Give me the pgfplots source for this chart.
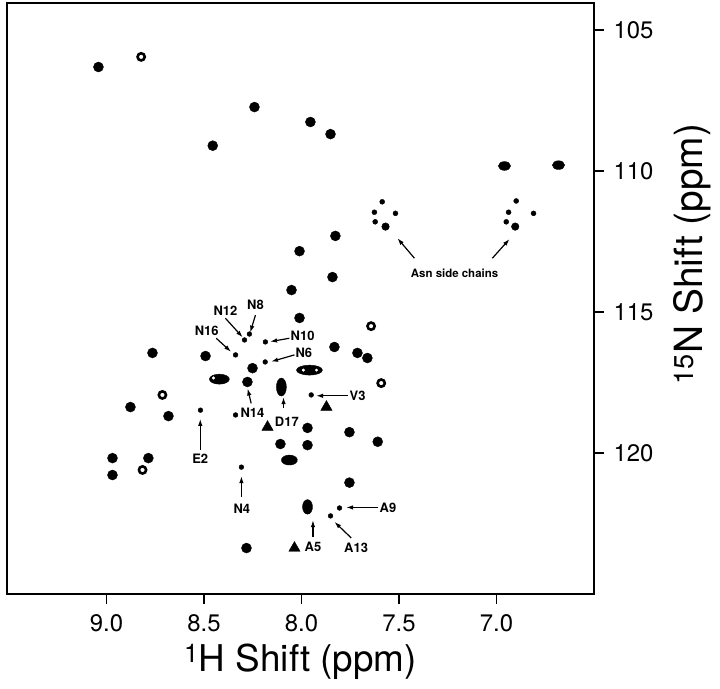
\documentclass[border=0pt]{standalone}
\usepackage{fontspec}
\setmainfont{TeX Gyre Heros}
\usepackage{pgfplots}
\pgfplotsset{compat=1.18}
\usetikzlibrary{arrows.meta}

\pgfplotsset{
  pk/.style={only marks, mark=*, mark size=#1, mark options={fill=black, draw=black, line width=0.4bp}, black},
}

\begin{document}
\begin{tikzpicture}
\begin{axis}[
  scale only axis, width=587bp, height=591bp,
  xmin=6.5, xmax=9.51, ymin=104.04, ymax=125.0,
  x dir=reverse, y dir=reverse,
  axis line style={line width=2bp},
  xtick={7,7.5,8,8.5,9}, ytick={105,110,115,120},
  xtick pos=lower, xticklabel pos=lower,
  ytick pos=upper, yticklabel pos=upper,
  tick align=outside, major tick length=10bp,
  tick style={line width=1.6bp, black},
  xticklabel style={/pgf/number format/.cd, fixed, fixed zerofill, precision=1, /tikz/yshift=-7bp},
  yticklabel style={xshift=6bp},
  ticklabel style={font=\fontsize{24}{28}\selectfont},
  /pgf/number format/assume math mode=true,
  xlabel={\textsuperscript{1}H Shift (ppm)},
  xlabel style={font=\fontsize{37}{40}\selectfont, at={(axis description cs:0.5,0)}, anchor=north, yshift=-50bp, inner sep=0pt},
  ylabel={\textsuperscript{15}N Shift (ppm)},
  ylabel style={font=\fontsize{39}{42}\selectfont, at={(axis description cs:1,0.575)}, anchor=north, rotate=0, yshift=-79bp, inner sep=0pt},
]
% regular peaks
\addplot[pk=5bp] coordinates {
(9.041,106.31) (8.241,107.73) (8.455,109.10) (7.954,108.26) (7.851,108.69)
(7.826,112.30) (8.010,112.84) (7.841,113.76) (8.051,114.22) (8.010,115.21)
(7.831,116.24) (7.713,116.45) (7.662,116.63) (8.764,116.45) (8.492,116.56)
(8.251,116.99) (8.277,117.48) (8.877,118.37) (8.682,118.69) (7.969,119.11)
(7.754,119.26) (7.609,119.60) (8.108,119.68) (7.969,119.72) (8.969,120.18)
(8.785,120.18) (8.969,120.78) (7.754,121.05) (8.282,123.37)
};
% teardrop peaks (horizontal)
\addplot[pk=4.4bp, mark options={xscale=1.4, fill=black}] coordinates {(6.959,109.82) (6.682,109.79)};
% triangular peaks
\addplot[only marks, mark=triangle*, mark size=6.5bp, black] coordinates {(7.872,118.37) (8.036,123.37) (8.174,119.08)};
% open peaks
\addplot[only marks, mark=o, mark size=3.6bp, mark options={line width=2.6bp}, black] coordinates {
(8.822,105.95) (7.643,115.50) (7.591,117.52) (8.713,117.94) (8.815,120.60)};
% small (labelled) peaks
\addplot[pk=2.4bp] coordinates {
(8.338,116.52) (8.292,115.99) (8.267,115.78) (8.185,116.06) (8.186,116.77)
(7.950,117.94) (8.518,118.48) (8.338,118.65) (8.308,120.50) (7.805,121.95) (7.851,122.23)};
% Asn side chains
\addplot[pk=2.5bp] coordinates {
(7.586,111.09) (7.626,111.46) (7.518,111.50) (7.622,111.80)
(6.899,111.06) (6.938,111.46) (6.810,111.50) (6.950,111.80)};
\addplot[pk=3.8bp] coordinates {(7.569,111.97) (6.904,111.97)};
% elongated peaks
\addplot[pk=5bp, mark options={xscale=2.6, fill=black}] coordinates {(7.959,117.06)};
\addplot[pk=5bp, mark options={xscale=2.0, fill=black}] coordinates {(8.421,117.38)};
\addplot[pk=5bp, mark options={xscale=1.6, rotate=-15, fill=black}] coordinates {(8.062,120.25)};
\addplot[pk=5bp, mark options={yscale=1.8, fill=black}] coordinates {(8.103,117.66)};
\addplot[pk=5bp, mark options={yscale=1.45, fill=black}] coordinates {(7.969,121.91)};
% holes in contours
\addplot[only marks, mark=*, mark size=1.3bp, mark options={fill=white, draw=white}] coordinates {(7.990,117.06) (7.923,117.06) (8.451,117.34)};

\coordinate (bl) at (axis cs:9.51,125.0);
\coordinate (tr) at (axis cs:6.5,104.04);

% annotations
\tikzset{lbl/.style={font=\fontsize{13}{15}\selectfont\bfseries, inner sep=0pt},
         arr/.style={-{Latex[length=7bp,width=4.5bp]}, line width=1.2bp}}
\node[lbl, font=\fontsize{11.5}{13}\selectfont\bfseries] at (axis cs:7.215,113.61) {Asn side chains};
\draw[arr] (axis cs:7.421,113.09) -- (axis cs:7.508,112.38);
\draw[arr] (axis cs:7.021,113.09) -- (axis cs:6.933,112.41);
\node[lbl] at (axis cs:8.390,114.95) {N12};
\draw[arr] (axis cs:8.390,115.22) -- (axis cs:8.301,115.90);
\node[lbl] at (axis cs:8.236,114.75) {N8};
\draw[arr] (axis cs:8.236,115.11) -- (axis cs:8.263,115.73);
\node[lbl] at (axis cs:8.486,115.66) {N16};
\draw[arr] (axis cs:8.437,115.93) -- (axis cs:8.361,116.41);
\node[lbl, anchor=west] at (axis cs:8.056,115.85) {N10};
\draw[arr] (axis cs:8.062,115.93) -- (axis cs:8.161,116.05);
\node[lbl, anchor=west] at (axis cs:8.031,116.45) {N6};
\draw[arr] (axis cs:8.036,116.52) -- (axis cs:8.156,116.76);
\node[lbl, anchor=west] at (axis cs:8.313,118.58) {N14};
\draw[arr] (axis cs:8.258,118.24) -- (axis cs:8.276,117.71);
\node[lbl] at (axis cs:8.075,118.89) {D17};
\draw[arr] (axis cs:8.092,118.40) -- (axis cs:8.092,118.02);
\node[lbl, anchor=west] at (axis cs:7.754,117.98) {V3};
\draw[arr] (axis cs:7.763,117.97) -- (axis cs:7.925,117.97);
\node[lbl] at (axis cs:8.519,120.21) {E2};
\draw[arr] (axis cs:8.519,119.89) -- (axis cs:8.519,118.79);
\node[lbl] at (axis cs:8.306,121.99) {N4};
\draw[arr] (axis cs:8.308,121.56) -- (axis cs:8.308,120.82);
\node[lbl] at (axis cs:7.941,123.33) {A5};
\draw[arr] (axis cs:7.941,122.98) -- (axis cs:7.941,122.38);
\node[lbl] at (axis cs:7.720,123.36) {A13};
\draw[arr] (axis cs:7.745,123.01) -- (axis cs:7.831,122.44);
\node[lbl, anchor=west] at (axis cs:7.600,121.96) {A9};
\draw[arr] (axis cs:7.609,121.93) -- (axis cs:7.771,121.93);
\end{axis}
\pgfresetboundingbox
\path ([xshift=-7bp,yshift=-95bp]bl) rectangle ([xshift=126bp,yshift=3bp]tr);
\end{tikzpicture}
\end{document}
